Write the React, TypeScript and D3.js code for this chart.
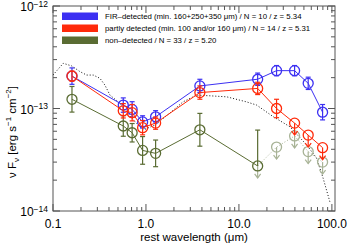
import React, { useEffect, useRef } from 'react';
import * as d3 from 'd3';

// rest-frame wavelengths (micron) of the stacked bands
const wavelength = [0.16, 0.57, 0.71, 0.92, 1.27, 3.8, 15.9, 25.4, 39.7, 55.6, 79.4];

// FIR-detected stack
const firFlux = [2.07e-13, 1.08e-13, 9.8e-14, 7.4e-14, 8.3e-14, 1.66e-13, 1.93e-13, 2.34e-13, 2.34e-13, 1.76e-13, 9.2e-14];
const firErr = [0.08, 0.07, 0.075, 0.06, 0.06, 0.065, 0.06, 0.05, 0.05, 0.06, 0.075];

// partly detected stack
const partFlux = [2.07e-13, 9.5e-14, 9.1e-14, 6.5e-14, 7.2e-14, 1.43e-13, 1.57e-13, 1.0e-13, 7.2e-14, 5.5e-14, 4.15e-14];
const partErr = [0.05, 0.07, 0.08, 0.07, 0.06, 0.065, 0.06, 0.09, 0, 0, 0];
const partUpper = [false, false, false, false, false, false, false, false, true, true, true];

// non-detected stack
const nonFlux = [1.23e-13, 6.75e-14, 5.8e-14, 3.9e-14, 3.65e-14, 6.2e-14, 2.75e-14, 4.2e-14, 5.4e-14, 3.8e-14, 3.0e-14];
const nonErrHi = [0.125, 0.1, 0.09, 0.135, 0.13, 0.16, 0.35, 0, 0, 0, 0];
const nonErrLo = [0.125, 0.1, 0.09, 0.135, 0.13, 0.16, 0, 0, 0, 0, 0];
const nonUpper = [false, false, false, false, false, false, true, true, true, true, true];
const nonFaint = [false, false, false, false, false, false, false, true, true, true, true];

// template SED (dotted)
const templateWave = [0.1, 0.129, 0.159, 0.195, 0.23, 0.271, 0.32, 0.362, 0.41, 0.504, 0.62, 0.762, 0.935, 1.25, 1.81, 2.5, 3.51, 4.88, 7.38, 12.1, 15.5, 23.4, 35.3, 53.5, 68.4, 80.6, 95.1];
const templateFlux = [2.12e-13, 2.76e-13, 2.6e-13, 2.29e-13, 2.12e-13, 2.12e-13, 1.97e-13, 1.69e-13, 1.35e-13, 1.16e-13, 9.3e-14, 7.43e-14, 6.17e-14, 6.9e-14, 9.04e-14, 1.16e-13, 1.35e-13, 1.33e-13, 1.3e-13, 1.16e-13, 1.08e-13, 8.32e-14, 6.64e-14, 4.41e-14, 3.29e-14, 2.08e-14, 1.23e-14];

const legendLabels = [
    'FIR\u2013detected (min. 160+250+350 \u03bcm) / N = 10 / z = 5.34',
    'partly detected (min. 100 and/or 160 \u03bcm) / N = 14 / z = 5.31',
    'non\u2013detected / N = 33 / z = 5.20',
];
const xTickLabels = ['0.1', '1.0', '10.0', '100.0'];
const yTickExps = [-12, -13, -14];

const BLUE = '#3c30f2';
const RED = '#ff2a0a';
const GREEN = '#5a6c33';
const LIGHT = '#a8b396';
const FONT = 'Liberation Sans, Arial, sans-serif';

const App = () => {
    const ref = useRef<SVGSVGElement>(null);

    useEffect(() => {
        const svg = d3.select(ref.current);
        svg.selectAll('*').remove();

        const left = 53, right = 335, top = 6, bottom = 211;
        const x = d3.scaleLog().domain([0.1, 108]).range([left, right]);
        const y = d3.scaleLog().domain([1e-14, 1e-12]).range([bottom, top]);

        const isMajor = (v: number) => Math.abs(Math.log10(v) - Math.round(Math.log10(v))) < 1e-6;

        // frame
        svg.append('rect')
            .attr('x', left).attr('y', top)
            .attr('width', right - left).attr('height', bottom - top)
            .attr('fill', 'none').attr('stroke', '#555').attr('stroke-width', 1);

        const ax = svg.append('g').attr('stroke', '#555').attr('stroke-width', 1);
        x.ticks().forEach(t => {
            const len = isMajor(t) ? 7 : 4;
            const px = x(t);
            ax.append('line').attr('x1', px).attr('x2', px).attr('y1', bottom).attr('y2', bottom - len);
            ax.append('line').attr('x1', px).attr('x2', px).attr('y1', top).attr('y2', top + len);
        });
        y.ticks().forEach(t => {
            const len = isMajor(t) ? 7 : 4;
            const py = y(t);
            ax.append('line').attr('x1', left).attr('x2', left + len).attr('y1', py).attr('y2', py);
            ax.append('line').attr('x1', right).attr('x2', right - len).attr('y1', py).attr('y2', py);
        });

        // x tick labels
        svg.selectAll('.xlab')
            .data(xTickLabels)
            .enter().append('text')
            .attr('x', d => x(+d))
            .attr('y', 228)
            .attr('text-anchor', 'middle')
            .attr('font-family', FONT).attr('font-size', 12)
            .text(d => d);

        // y tick labels
        yTickExps.forEach(e => {
            const t = svg.append('text')
                .attr('x', left - 5)
                .attr('y', y(Math.pow(10, e)) + 5)
                .attr('text-anchor', 'end')
                .attr('font-family', FONT).attr('font-size', 12);
            t.append('tspan').text('10');
            t.append('tspan').attr('dy', -4.5).attr('font-size', 8.5).text('\u2212' + Math.abs(e));
        });

        // axis titles
        svg.append('text')
            .attr('x', 194).attr('y', 241)
            .attr('text-anchor', 'middle')
            .attr('font-family', FONT).attr('font-size', 11.5)
            .text('rest wavelength (\u03bcm)');

        const yl = svg.append('text')
            .attr('transform', 'translate(16,132) rotate(-90)')
            .attr('text-anchor', 'middle')
            .attr('font-family', FONT).attr('font-size', 11.5);
        yl.append('tspan').text('\u03bd F');
        yl.append('tspan').attr('dy', 3).attr('font-size', 8).text('\u03bd');
        yl.append('tspan').attr('dy', -3).text(' [erg s');
        yl.append('tspan').attr('dy', -5).attr('font-size', 8).text('\u22121');
        yl.append('tspan').attr('dy', 5).text(' cm');
        yl.append('tspan').attr('dy', -5).attr('font-size', 8).text('\u22122');
        yl.append('tspan').attr('dy', 5).text(']');

        // template
        const line = d3.line<[number, number]>().x(d => x(d[0])).y(d => y(d[1]));
        svg.append('path')
            .attr('d', line(templateWave.map((w, i) => [w, templateFlux[i]] as [number, number])))
            .attr('fill', 'none').attr('stroke', '#111').attr('stroke-width', 1)
            .attr('stroke-dasharray', '1,2');

        const drawSeries = (
            flux: number[], errHi: number[], errLo: number[], upper: boolean[], faint: boolean[],
            color: string, solidUntil: number
        ) => {
            const g = svg.append('g');
            const pts = wavelength.map((w, i) => [w, flux[i]] as [number, number]);
            g.append('path')
                .attr('d', line(pts.slice(0, solidUntil + 1)))
                .attr('fill', 'none').attr('stroke', color).attr('stroke-width', 1);
            if (solidUntil < pts.length - 1) {
                g.append('path')
                    .attr('d', line(pts.slice(solidUntil)))
                    .attr('fill', 'none').attr('stroke', LIGHT).attr('stroke-width', 1)
                    .attr('stroke-dasharray', '1,2');
            }
            pts.forEach((p, i) => {
                const c = faint[i] ? LIGHT : color;
                const cx = x(p[0]), cy = y(p[1]);
                if (errHi[i] > 0 || errLo[i] > 0) {
                    const y1 = y(p[1] * Math.pow(10, errHi[i]));
                    const y2 = y(p[1] / Math.pow(10, errLo[i]));
                    g.append('line').attr('x1', cx).attr('x2', cx).attr('y1', y1).attr('y2', y2)
                        .attr('stroke', c).attr('stroke-width', 1.2);
                    if (errHi[i] > 0) g.append('line').attr('x1', cx - 2.5).attr('x2', cx + 2.5).attr('y1', y1).attr('y2', y1)
                        .attr('stroke', c).attr('stroke-width', 1.2);
                    if (errLo[i] > 0) g.append('line').attr('x1', cx - 2.5).attr('x2', cx + 2.5).attr('y1', y2).attr('y2', y2)
                        .attr('stroke', c).attr('stroke-width', 1.2);
                }
                if (upper[i]) {
                    const ac = color === RED ? RED : LIGHT;
                    const end = cy + 12;
                    g.append('line').attr('x1', cx).attr('x2', cx).attr('y1', cy).attr('y2', end)
                        .attr('stroke', ac).attr('stroke-width', 1.2);
                    g.append('path').attr('d', `M${cx - 3},${end - 4}L${cx},${end}L${cx + 3},${end - 4}`)
                        .attr('fill', 'none').attr('stroke', ac).attr('stroke-width', 1.2);
                }
                g.append('circle').attr('cx', cx).attr('cy', cy).attr('r', 5)
                    .attr('fill', 'none').attr('stroke', c).attr('stroke-width', 1.3);
            });
        };

        const none = wavelength.map(() => false);
        drawSeries(nonFlux, nonErrHi, nonErrLo, nonUpper, nonFaint, GREEN, 6);
        drawSeries(firFlux, firErr, firErr, none, none, BLUE, wavelength.length - 1);
        drawSeries(partFlux, partErr, partErr, partUpper, none, RED, wavelength.length - 1);

        // legend
        const colors = [BLUE, RED, GREEN];
        const legend = svg.selectAll('.legend')
            .data(legendLabels)
            .enter().append('g')
            .attr('class', 'legend')
            .attr('transform', (d, i) => `translate(62, ${12.5 + i * 12})`);
        legend.append('rect')
            .attr('width', 36).attr('height', 7.5)
            .attr('fill', (d, i) => colors[i]);
        legend.append('text')
            .attr('x', 43).attr('y', 6.6)
            .attr('font-family', FONT).attr('font-size', 7.8)
            .text(d => d);
    }, []);

    return <svg ref={ref} width={350} height={250} style={{ position: 'absolute', left: 0, top: 0, background: '#fff' }}></svg>;
};

export default App;
